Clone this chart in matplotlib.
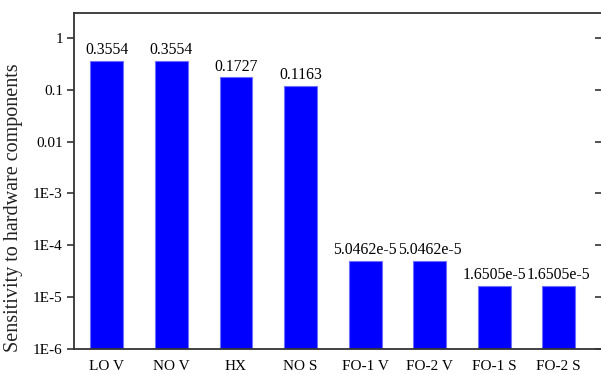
import numpy as np
import matplotlib.pyplot as plt
from matplotlib.ticker import FixedLocator, FixedFormatter, NullLocator

plt.rcParams['font.family'] = ['Liberation Serif', 'DejaVu Serif']

components = ['LO V', 'NO V', 'HX', 'NO S', 'FO-1 V', 'FO-2 V', 'FO-1 S', 'FO-2 S']
sensitivity = [0.3554, 0.3554, 0.1727, 0.1163, 5.0462e-5, 5.0462e-5, 1.6505e-5, 1.6505e-5]
value_labels = ['0.3554', '0.3554', '0.1727', '0.1163',
                '5.0462e-5', '5.0462e-5', '1.6505e-5', '1.6505e-5']
ytick_vals = [1e-6, 1e-5, 1e-4, 1e-3, 1e-2, 1e-1, 1]
ytick_text = ['1E-6', '1E-5', '1E-4', '1E-3', '0.01', '0.1', '1']

fig = plt.figure(figsize=(6.01, 3.74), dpi=100)
# the right spine sits just past the canvas edge
ax = fig.add_axes([74 / 601, 25 / 374, 528 / 601, 336 / 374])

x = np.arange(len(components))
bars = ax.bar(x, sensitivity, width=0.51, color='#0000ff', edgecolor='#6f6fff',
              linewidth=0.8)

ax.set_yscale('log')
ax.set_ylim(1e-6, 3)
ax.set_xlim(-0.51, 7.67)
ax.yaxis.set_major_locator(FixedLocator(ytick_vals))
ax.yaxis.set_major_formatter(FixedFormatter(ytick_text))
ax.yaxis.set_minor_locator(NullLocator())

ax.set_xticks(x)
ax.set_xticklabels(components, fontsize=11)
ax.tick_params(axis='x', length=0, pad=8)
ax.tick_params(axis='y', which='major', direction='out', length=5, width=1.2,
               labelsize=11, color='#333333', pad=3, right=True)
for t in ax.yaxis.get_ticklines()[1::2]:
    t.set_marker(0)  # right-side ticks point inward
    t.set_markersize(5)

for spine in ax.spines.values():
    spine.set_linewidth(1.3)
    spine.set_color('#333333')

for b, lab in zip(bars, value_labels):
    ax.annotate(lab, (b.get_x() + b.get_width() / 2, b.get_height()),
                xytext=(0, 2), textcoords='offset points',
                ha='center', va='bottom', fontsize=11.3)

ax.set_ylabel('Sensitivity to hardware components', fontsize=14.5, color='#222222')
ax.yaxis.set_label_coords(-0.096, 0.42)

fig.savefig('out.png', dpi=100)
